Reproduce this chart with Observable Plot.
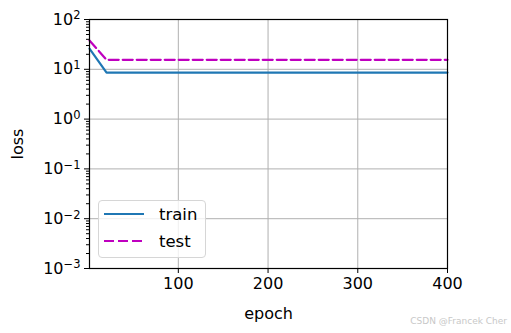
<!DOCTYPE html>
<html><head><meta charset="utf-8">
<script src="https://cdn.jsdelivr.net/npm/d3@7"></script>
<script src="https://cdn.jsdelivr.net/npm/@observablehq/plot@0.6"></script>
<style>
html,body{margin:0;padding:0;background:#fff;}
#wrap{position:relative;width:511px;height:333px;font-family:"DejaVu Sans",sans-serif;}
#legend{position:absolute;left:98px;top:200px;width:108px;height:58px;border:1px solid #d6d6d6;border-radius:4px;background:rgba(255,255,255,0.8);box-sizing:border-box;font-size:16.5px;color:#000;}
.row{position:absolute;left:5px;display:flex;align-items:center;}
.row svg{margin-right:13px;}
#wm{position:absolute;right:4px;top:316px;font-size:9px;color:#c8c8c8;font-family:"DejaVu Sans",sans-serif;}
</style></head>
<body><div id="wrap"><div id="chart"></div>
<div id="legend">
 <div class="row" style="top:3px"><svg width="42" height="20"><line x1="0" y1="10" x2="40" y2="10" stroke="#1f77b4" stroke-width="2.2"/></svg>train</div>
 <div class="row" style="top:30px"><svg width="42" height="20"><line x1="0" y1="10" x2="40" y2="10" stroke="#bf00bf" stroke-width="2.2" stroke-dasharray="10,4"/></svg>test</div>
</div>
<div id="wm">CSDN @Francek Cher</div>
</div>
<script>
const epochs = [1, 20, 40, 60, 80, 100, 120, 140, 160, 180, 200, 220, 240, 260, 280, 300, 320, 340, 360, 380, 400];
const trainLoss = [26, 8.6, 8.6, 8.6, 8.6, 8.6, 8.6, 8.6, 8.6, 8.6, 8.6, 8.6, 8.6, 8.6, 8.6, 8.6, 8.6, 8.6, 8.6, 8.6, 8.6];
const testLoss = [38, 15.5, 15.5, 15.5, 15.5, 15.5, 15.5, 15.5, 15.5, 15.5, 15.5, 15.5, 15.5, 15.5, 15.5, 15.5, 15.5, 15.5, 15.5, 15.5, 15.5];
const xTicks = [100, 200, 300, 400];
const yTicks = [1e-3, 1e-2, 1e-1, 1e0, 1e1, 1e2];
const yTickExponents = ["−3", "−2", "−1", "0", "1", "2"];

const minor = [];
for (let e = -3; e < 2; e++) for (let k = 2; k <= 9; k++) minor.push(k * Math.pow(10, e));

const train = epochs.map((e, i) => ({epoch: e, loss: trainLoss[i]}));
const test = epochs.map((e, i) => ({epoch: e, loss: testLoss[i]}));

const chart = Plot.plot({
  width: 511, height: 333,
  marginLeft: 89, marginRight: 64, marginTop: 19, marginBottom: 65,
  style: {fontFamily: "DejaVu Sans, sans-serif", color: "#000", background: "#fff"},
  x: {domain: [1, 400]},
  y: {type: "log", domain: [1e-3, 1e2]},
  marks: [
    Plot.gridX(xTicks, {stroke: "#b0b0b0", strokeOpacity: 1, strokeWidth: 1}),
    Plot.gridY(yTicks, {stroke: "#b0b0b0", strokeOpacity: 1, strokeWidth: 1}),
    Plot.line(train, {x: "epoch", y: "loss", stroke: "#1f77b4", strokeWidth: 2.2}),
    Plot.line(test, {x: "epoch", y: "loss", stroke: "#bf00bf", strokeWidth: 2.2, strokeDasharray: "10,4"}),
    Plot.frame({stroke: "#000", strokeWidth: 1.2}),
    Plot.axisX(xTicks, {tickSize: 5, tickPadding: 4, fontSize: 16, label: "epoch", labelAnchor: "center", labelArrow: "none", labelOffset: 50}),
    Plot.axisY(yTicks, {tickSize: 5, tickPadding: 4, fontSize: 16, tickFormat: d => "10^" + yTickExponents[yTicks.indexOf(d)], label: "loss", labelAnchor: "center", labelArrow: "none", labelOffset: 78}),
    Plot.axisY(minor, {tickSize: 3, tickFormat: () => "", label: null})
  ]
});
// render "10^e" as 10 with a superscript exponent
d3.select(chart).selectAll("text").each(function() {
  const t = this.textContent;
  if (t.startsWith("10^")) {
    const exp = t.slice(3);
    const sel = d3.select(this);
    sel.text("10");
    sel.append("tspan").attr("dy", "-0.45em").attr("font-size", "11.5px").text(exp);
  }
});
document.getElementById("chart").appendChild(chart);
</script></body></html>
